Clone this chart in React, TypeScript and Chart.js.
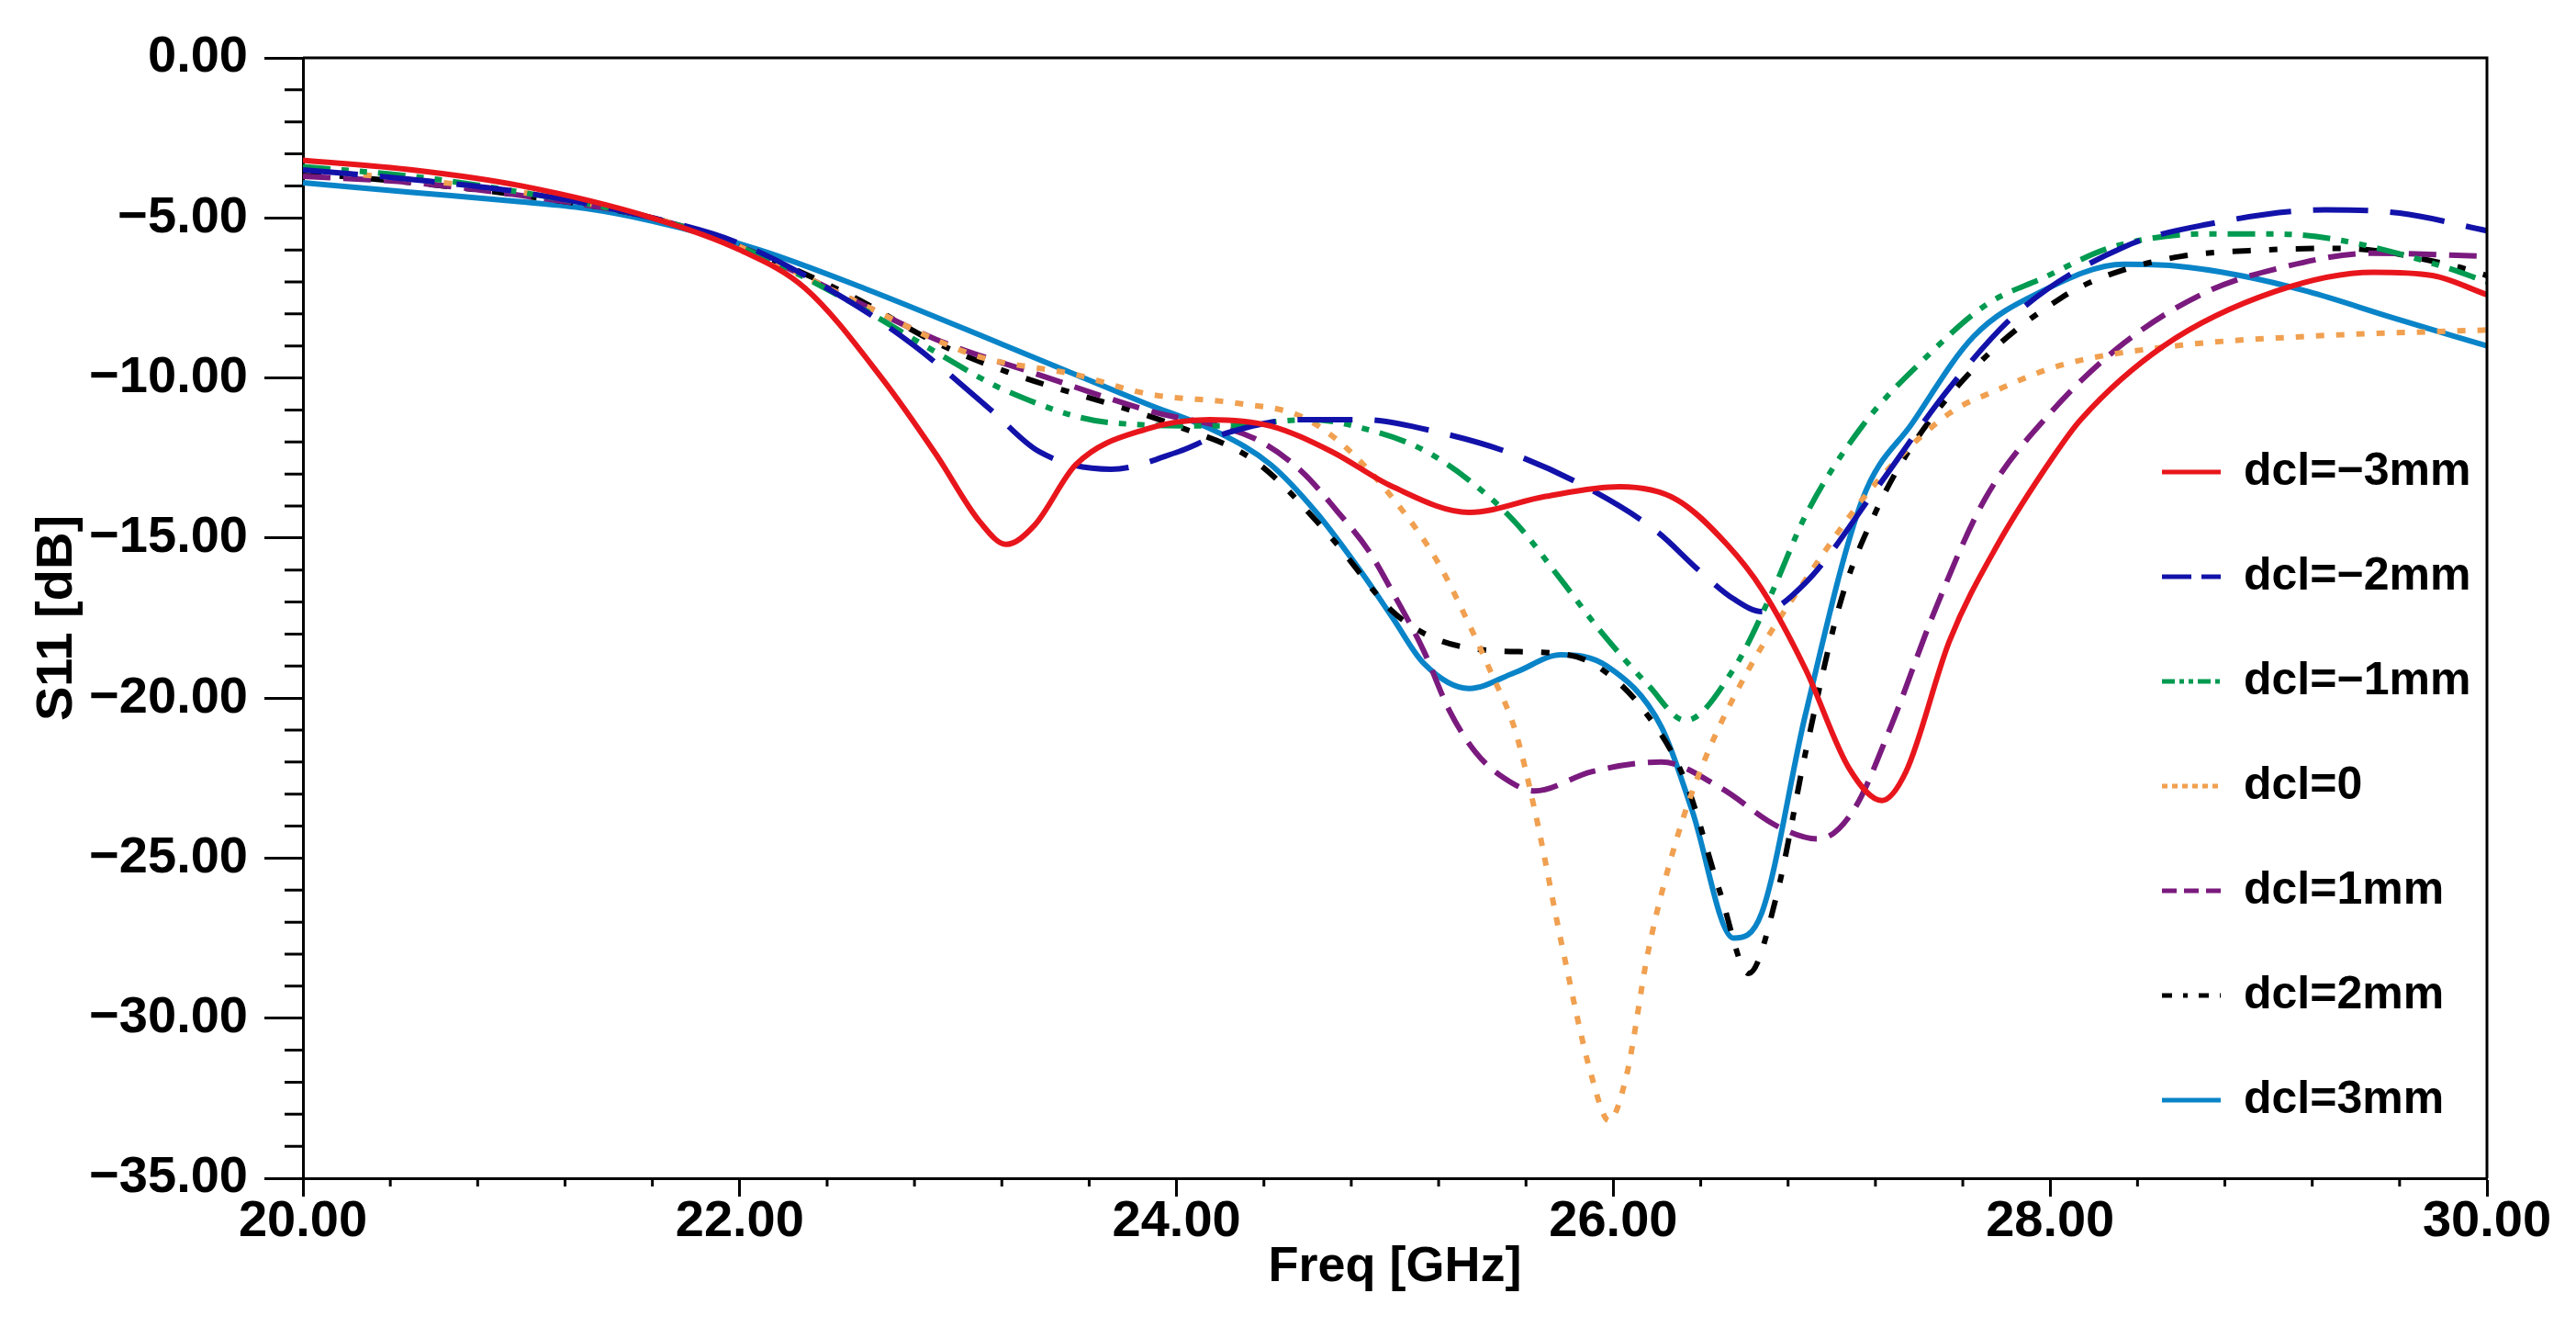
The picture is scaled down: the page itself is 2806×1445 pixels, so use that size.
import { useEffect, useRef } from "react";
import { Chart, registerables } from "chart.js";

Chart.register(...registerables);

const FONT = "'Liberation Sans', Arial, Helvetica, sans-serif";

// axis ticks
const xTicks = [20, 22, 24, 26, 28, 30];
const yTicks = [0, -5, -10, -15, -20, -25, -30, -35];

// dcl = -3mm
const redFreq = [20.0, 20.5, 21.0, 21.6, 22.0, 22.3, 22.65, 22.9, 23.1, 23.22, 23.35, 23.54, 23.86, 24.15, 24.43, 24.71, 24.99, 25.34, 25.69, 26.03, 26.29, 26.52, 26.68, 26.88, 27.08, 27.23, 27.34, 27.54, 27.76, 28.02, 28.14, 28.52, 29.03, 29.48, 29.75, 30.0];
const redS11 = [-3.2, -3.5, -4.0, -5.0, -6.0, -7.2, -10.0, -12.4, -14.5, -15.2, -14.6, -12.7, -11.6, -11.3, -11.5, -12.3, -13.4, -14.2, -13.7, -13.4, -13.8, -15.2, -16.6, -19.1, -22.2, -23.2, -22.3, -18.2, -15.2, -12.4, -11.3, -9.0, -7.3, -6.7, -6.8, -7.4];

// dcl = -2mm
const blueFreq = [20.0, 20.5, 21.0, 21.6, 22.0, 22.5, 22.8, 23.15, 23.37, 23.7, 24.01, 24.19, 24.57, 24.85, 25.2, 25.55, 25.9, 26.2, 26.39, 26.55, 26.68, 26.88, 27.2, 27.54, 27.86, 28.34, 28.72, 29.26, 29.6, 30.0];
const blueS11 = [-3.5, -3.8, -4.2, -5.0, -5.8, -7.6, -9.0, -11.0, -12.3, -12.85, -12.3, -11.8, -11.3, -11.3, -11.7, -12.4, -13.5, -14.8, -16.0, -16.9, -17.3, -16.4, -13.5, -10.3, -7.9, -5.9, -5.2, -4.75, -4.85, -5.4];

// dcl = -1mm
const greenFreq = [20.0, 20.5, 21.0, 21.6, 22.0, 22.5, 22.9, 23.22, 23.7, 24.2, 24.61, 24.92, 25.13, 25.34, 25.55, 25.76, 25.94, 26.16, 26.33, 26.55, 26.72, 26.88, 27.14, 27.44, 27.71, 27.96, 28.29, 28.72, 29.03, 29.33, 29.79, 30.0];
const greenS11 = [-3.4, -3.7, -4.2, -5.0, -5.9, -7.6, -9.2, -10.4, -11.4, -11.5, -11.3, -11.7, -12.25, -13.2, -14.5, -16.3, -17.9, -19.6, -20.7, -19.1, -16.8, -14.3, -11.5, -9.3, -7.7, -6.9, -5.9, -5.5, -5.5, -5.7, -6.5, -7.0];

// dcl = 0
const orangeFreq = [20.0, 20.5, 21.0, 21.6, 22.0, 22.5, 23.08, 23.54, 23.87, 24.29, 24.57, 24.78, 25.03, 25.2, 25.34, 25.44, 25.55, 25.64, 25.77, 25.9, 25.98, 26.06, 26.16, 26.29, 26.42, 26.62, 26.88, 27.2, 27.54, 27.75, 28.05, 28.57, 29.18, 30.0];
const orangeS11 = [-3.5, -3.8, -4.2, -5.0, -5.9, -7.5, -9.3, -9.9, -10.5, -10.8, -11.2, -12.2, -14.1, -15.8, -17.7, -19.2, -21.0, -23.5, -27.9, -31.8, -33.2, -31.8, -27.9, -24.4, -21.9, -19.1, -16.3, -13.3, -11.1, -10.4, -9.6, -9.0, -8.7, -8.5];

// dcl = 1mm
const purpleFreq = [20.0, 20.5, 21.0, 21.6, 22.0, 22.5, 22.9, 23.37, 23.86, 24.36, 24.57, 24.74, 24.88, 24.99, 25.13, 25.25, 25.37, 25.5, 25.64, 25.9, 26.22, 26.49, 26.75, 26.94, 27.1, 27.27, 27.47, 27.7, 28.0, 28.34, 28.72, 29.03, 29.48, 30.0];
const purpleS11 = [-3.7, -3.9, -4.3, -5.0, -5.9, -7.5, -8.8, -9.9, -11.0, -11.9, -12.9, -14.2, -15.4, -16.7, -18.5, -20.4, -21.7, -22.5, -22.9, -22.3, -22.0, -22.8, -24.0, -24.4, -23.5, -20.9, -17.3, -13.8, -11.1, -8.9, -7.3, -6.6, -6.1, -6.2];

// dcl = 2mm
const blackFreq = [20.0, 20.5, 21.0, 21.6, 22.0, 22.5, 22.9, 23.22, 24.0, 24.36, 24.71, 24.99, 25.17, 25.41, 25.73, 25.9, 26.13, 26.33, 26.49, 26.62, 26.75, 26.88, 27.04, 27.2, 27.37, 27.68, 28.05, 28.26, 28.6, 28.98, 29.33, 29.85, 30.0];
const blackS11 = [-3.6, -3.9, -4.3, -5.0, -5.9, -7.4, -8.9, -9.8, -11.5, -12.6, -15.0, -17.3, -18.1, -18.5, -18.6, -18.9, -20.3, -22.6, -26.1, -28.6, -26.1, -21.7, -17.0, -14.2, -12.1, -9.5, -7.5, -6.8, -6.2, -6.0, -5.95, -6.5, -6.8];

// dcl = 3mm
const cyanFreq = [20.0, 20.5, 21.0, 21.29, 21.6, 22.09, 22.57, 23.22, 23.86, 24.19, 24.43, 24.64, 24.85, 24.99, 25.13, 25.34, 25.55, 25.76, 25.97, 26.22, 26.36, 26.55, 26.68, 26.88, 27.14, 27.37, 27.65, 27.96, 28.34, 28.57, 28.87, 29.18, 29.56, 30.0];
const cyanS11 = [-3.9, -4.2, -4.5, -4.7, -5.1, -6.0, -7.2, -9.0, -10.8, -11.7, -12.7, -14.2, -16.1, -17.5, -18.9, -19.7, -19.2, -18.65, -19.0, -20.9, -23.5, -27.5, -26.7, -20.5, -13.8, -11.4, -8.7, -7.3, -6.45, -6.5, -6.8, -7.3, -8.1, -9.0];

const points = (xs: number[], ys: number[]) => xs.map((x, i) => ({ x, y: ys[i] }));

// four minor ticks between each pair of labelled ticks
const minorBetween = (majors: number[]) => {
  const out: number[] = [];
  for (let i = 0; i < majors.length - 1; i++) {
    const step = (majors[i + 1] - majors[i]) / 5;
    for (let k = 1; k < 5; k++) out.push(majors[i] + k * step);
  }
  return out;
};
const xMinor = minorBetween(xTicks);
const yMinor = minorBetween(yTicks);

const fmt = (v: number) => Number(v).toFixed(2).replace("-", "\u2212");

const framePlugin = {
  id: "frameAndMinorTicks",
  afterLayout(chart: any) {
    // legend sits inside the plot, on the right
    const legend = chart.legend;
    const area = chart.chartArea;
    if (!legend || !area) return;
    legend.left = area.right - 418;
    legend.top = area.top + 362;
    legend.right = area.right;
    legend.bottom = chart.height;
    legend.width = legend.right - legend.left;
    legend.height = legend.bottom - legend.top;
  },
  afterDraw(chart: any) {
    const { ctx, chartArea, scales } = chart;
    const { left, right, top, bottom } = chartArea;
    ctx.save();
    ctx.strokeStyle = "#000";
    ctx.lineWidth = 3;
    ctx.beginPath();
    ctx.moveTo(left, top);
    ctx.lineTo(right, top);
    ctx.lineTo(right, bottom);
    yMinor.forEach((v) => {
      const py = scales.y.getPixelForValue(v);
      ctx.moveTo(left - 20, py);
      ctx.lineTo(left, py);
    });
    xMinor.forEach((v) => {
      const px = scales.x.getPixelForValue(v);
      ctx.moveTo(px, bottom);
      ctx.lineTo(px, bottom + 9);
    });
    ctx.stroke();
    ctx.restore();
  },
};

export default function App() {
  const chartRef = useRef<HTMLCanvasElement>(null);
  const chartInstance = useRef<Chart | null>(null);

  useEffect(() => {
    if (!chartRef.current) return;
    if (chartInstance.current) chartInstance.current.destroy();

    const line = (label: string, xs: number[], ys: number[], color: string, dash: number[], legendDash: number[]) => ({
      label,
      data: points(xs, ys),
      borderColor: color,
      backgroundColor: color,
      borderWidth: 6,
      borderDash: dash,
      legendDash,
      pointRadius: 0,
      fill: false,
      cubicInterpolationMode: "monotone" as const,
    });

    chartInstance.current = new Chart(chartRef.current, {
      type: "line",
      data: {
        datasets: [
          line("dcl=\u22123mm", redFreq, redS11, "#e8161c", [], []),
          line("dcl=\u22122mm", blueFreq, blueS11, "#1212aa", [60, 24], [32, 11]),
          line("dcl=\u22121mm", greenFreq, greenS11, "#009a50", [30, 12, 8, 12, 8, 12], [14, 5, 5, 5, 5, 5]),
          line("dcl=0", orangeFreq, orangeS11, "#f0a050", [9, 13], [6, 5]),
          line("dcl=1mm", purpleFreq, purpleS11, "#7a1a7e", [30, 14], [16, 8]),
          line("dcl=2mm", blackFreq, blackS11, "#000000", [20, 20, 9, 20], [11, 12, 5, 12]),
          line("dcl=3mm", cyanFreq, cyanS11, "#0a84c8", [], []),
        ] as any,
      },
      options: {
        responsive: true,
        maintainAspectRatio: false,
        animation: false,
        layout: { padding: { top: 63, right: 97, left: 0, bottom: 0 } },
        plugins: {
          legend: {
            position: "chartArea",
            align: "start",
            labels: {
              usePointStyle: true,
              pointStyle: "line",
              pointStyleWidth: 64,
              padding: 64,
              color: "#000",
              font: { family: FONT, size: 50, weight: "bold" },
              generateLabels: (chart: any) => {
                const items = Chart.defaults.plugins.legend.labels.generateLabels(chart);
                return items.map((item: any) => {
                  const ds = chart.data.datasets[item.datasetIndex];
                  return { ...item, lineDash: ds.legendDash, lineWidth: 5, strokeStyle: ds.borderColor, lineCap: "butt" };
                });
              },
            },
          },
          tooltip: { enabled: false },
        },
        scales: {
          x: {
            type: "linear",
            min: 20,
            max: 30,
            afterBuildTicks: (s: any) => {
              s.ticks = xTicks.map((value) => ({ value }));
            },
            afterFit: (s: any) => {
              s.height = 162;
            },
            ticks: {
              callback: (v: any) => fmt(v),
              color: "#000",
              padding: 0,
              maxRotation: 0,
              autoSkip: false,
              font: { family: FONT, size: 56, weight: "bold", lineHeight: 1 },
            },
            grid: { drawOnChartArea: false, drawTicks: true, tickLength: 20, tickWidth: 3, tickColor: "#000" },
            border: { display: true, color: "#000", width: 3 },
            title: {
              display: true,
              text: "Freq [GHz]",
              color: "#000",
              font: { family: FONT, size: 54, weight: "bold" },
              padding: { top: 0, bottom: 32 },
            },
          },
          y: {
            type: "linear",
            min: -35,
            max: 0,
            afterBuildTicks: (s: any) => {
              s.ticks = yTicks.map((value) => ({ value }));
            },
            afterFit: (s: any) => {
              s.width = 330;
            },
            ticks: {
              callback: (v: any) => fmt(v),
              color: "#000",
              padding: 18,
              autoSkip: false,
              font: { family: FONT, size: 56, weight: "bold" },
            },
            grid: { drawOnChartArea: false, drawTicks: true, tickLength: 42, tickWidth: 3, tickColor: "#000" },
            border: { display: true, color: "#000", width: 3 },
            title: {
              display: true,
              text: "S11 [dB]",
              color: "#000",
              font: { family: FONT, size: 56, weight: "bold" },
              padding: { top: 29, bottom: 0 },
            },
          },
        },
      },
      plugins: [framePlugin],
    });

    return () => {
      if (chartInstance.current) {
        chartInstance.current.destroy();
        chartInstance.current = null;
      }
    };
  }, []);

  return (
    <div style={{ position: "fixed", left: 0, top: 0, width: 2806, height: 1445, background: "#fff" }}>
      <canvas ref={chartRef} />
    </div>
  );
}
